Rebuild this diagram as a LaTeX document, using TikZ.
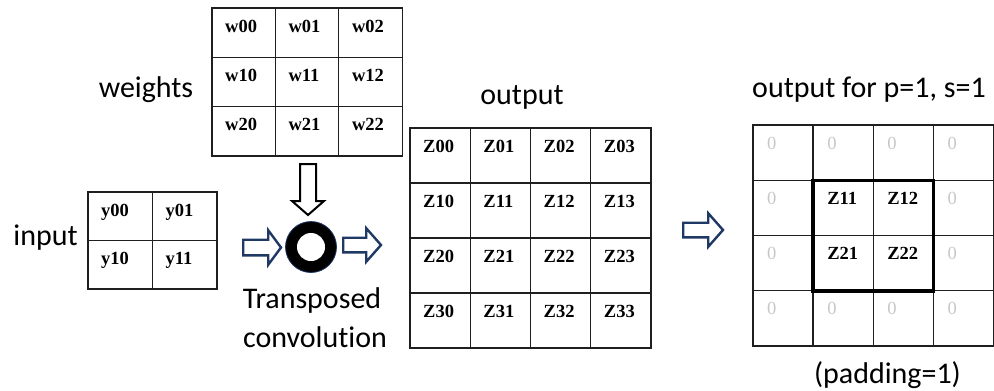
\documentclass[tikz,border=0pt]{standalone}
\usepackage{fontspec}
\setmainfont{Liberation Serif}
\newfontfamily\labelfont[Ligatures=NoCommon]{Carlito}
\usetikzlibrary{calc}
\definecolor{navy}{HTML}{1F3864}
\begin{document}
\begin{tikzpicture}[x=1pt,y=-1pt,
  cellbox/.style={draw=black!88, line width=1.3pt, anchor=north west, inner sep=0pt, outer sep=0pt},
  celltext/.style={anchor=base west, inner sep=0pt, font=\fontsize{18.5}{18.5}\selectfont\bfseries},
  zerotext/.style={anchor=base west, inner sep=0pt, font=\fontsize{18.5}{18.5}\selectfont, text=black!22},
  caption/.style={anchor=base, inner sep=0pt, font=\labelfont\fontsize{30}{34}\selectfont},
  % block arrow: length, head length, head half width, shaft half width
  pics/blockarrow/.style n args={4}{code={
    \path[pic actions] (0,-#4) -- ({#1-#2},-#4) -- ({#1-#2},-#3) -- (#1,0)
      -- ({#1-#2},#3) -- ({#1-#2},#4) -- (0,#4) -- cycle;}},
  navyarrow/.style={draw=navy, fill=white, line width=2.4pt, line join=miter},
  blackarrow/.style={draw=black, fill=white, line width=2pt, line join=miter},
  boldframe/.style={draw=black, line width=3.5pt, line join=miter}]
\useasboundingbox (0,0) rectangle (994,391);

% weights 3x3
\foreach \r in {0,1,2} \foreach \c in {0,1,2} {
  \node[cellbox, minimum width=63.4pt, minimum height=49.3pt] (w\r\c) at ({212+63.4*\c},{8+49.3*\r}) {};
  \node[celltext] at ($(w\r\c.north west)+(13,24)$) {w\r\c};
}
% input 2x2
\foreach \r in {0,1} \foreach \c in {0,1} {
  \node[cellbox, minimum width=64.5pt, minimum height=48.5pt] (y\r\c) at ({88+64.5*\c},{192+48.5*\r}) {};
  \node[celltext] at ($(y\r\c.north west)+(13,24)$) {y\r\c};
}
% output 4x4
\foreach \r in {0,1,2,3} \foreach \c in {0,1,2,3} {
  \node[cellbox, minimum width=60.25pt, minimum height=55pt] (z\r\c) at ({410+60.25*\c},{128+55*\r}) {};
  \node[celltext] at ($(z\r\c.north west)+(13,24)$) {Z\r\c};
}
% cropped output with padding
\foreach \r in {0,1,2,3} \foreach \c in {0,1,2,3} {
  \node[cellbox, minimum width=60.1pt, minimum height=55.25pt] (p\r\c) at ({753+60.1*\c},{125+55.25*\r}) {};
  \pgfmathtruncatemacro\inside{(\r>0)&&(\r<3)&&(\c>0)&&(\c<3)}
  \ifnum\inside=1
    \node[celltext] at ($(p\r\c.north west)+(14,24)$) {Z\r\c};
  \else
    \node[zerotext] at ($(p\r\c.north west)+(14,24)$) {0};
  \fi
}
\draw[boldframe] (p11.north west) rectangle (p22.south east);

% captions
\node[caption] (lw) at (146,97) {weights};
\node[caption] (li) at (45.5,245) {input};
\node[caption] (lo) at (522,104) {output};
\node[caption] (lt) at (312,308) {Transposed};
\node[caption] (lc) at (315,347) {convolution};
\node[caption] (lp) at (869,97) {output for p=1, s=1};
\node[caption] (lq) at (887.5,383) {(padding=1)};

% convolution operator
\node[circle, fill=black, draw=navy, line width=0.8pt, minimum size=51pt, inner sep=0pt] (conv) at (311,247) {};
\fill[white] (conv.center) circle (14);

% block arrows
\coordinate (ain) at (243.2,247.5);
\coordinate (aout) at (343.2,245);
\coordinate (amid) at (683.2,230);
\coordinate (aw) at (308,164);
\pic[navyarrow] at (ain) {blockarrow={37.8}{12.8}{17.3}{7.8}};
\pic[navyarrow] at (aout) {blockarrow={37.8}{14.8}{16.8}{7.3}};
\pic[navyarrow] at (amid) {blockarrow={39.8}{14.8}{16.8}{7.3}};
\pic[blackarrow, rotate=-90] at (aw) {blockarrow={51}{14}{16}{8}};
\end{tikzpicture}
\end{document}
